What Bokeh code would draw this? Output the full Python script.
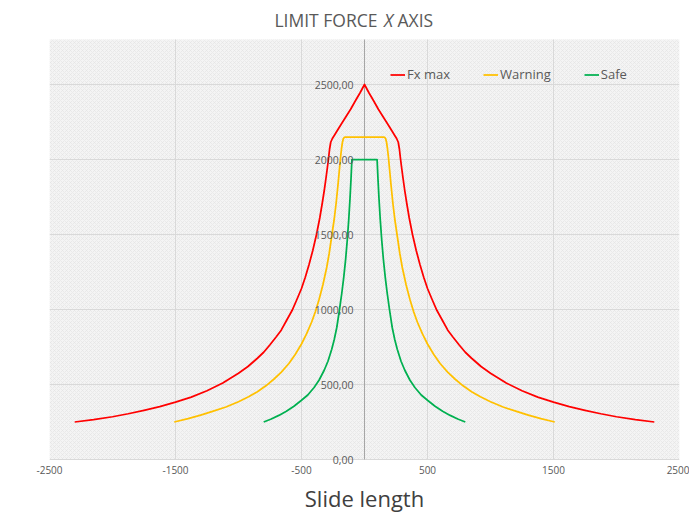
from bokeh.plotting import figure
from bokeh.models import (Range1d, FixedTicker, Label, LabelSet, Grid,
                          ColumnDataSource, BoxAnnotation)
from bokeh.core.properties import value
from bokeh.embed import file_html
from bokeh.resources import INLINE

FONT = "Open Sans"

# ---- data ----
x_ticks = [-2500, -1500, -500, 500, 1500, 2500]
x_tick_labels = ["-2500", "-1500", "-500", "500", "1500", "2500"]
y_ticks = [0, 500, 1000, 1500, 2000, 2500]
y_tick_labels = ["0,00", "500,00", "1000,00", "1500,00", "2000,00", "2500,00"]

fx_max_x = [-2300, -2150, -2000, -1875, -1750, -1625, -1500, -1375, -1250, -1125, -1000,
            -925, -850, -800, -750, -700, -661, -620, -575, -540, -500, -470, -440, -410,
            -381, -355, -335, -320, -305, -294, -285, -277, -268, -255, -240, -217, -185,
            -150, -110, -71, -35, 0,
            35, 71, 110, 150, 185, 217, 240, 255, 268, 277, 285, 294, 305, 320, 335, 355,
            381, 410, 440, 470, 500, 540, 575, 620, 661, 700, 750, 800, 850, 925,
            1000, 1125, 1250, 1375, 1500, 1625, 1750, 1875, 2000, 2150, 2300]
fx_max_y = [250, 266, 285, 305, 328, 352, 382, 416, 458, 510, 575,
            620, 675, 715, 765, 818, 862, 925, 993, 1060, 1140, 1215, 1300, 1395,
            1500, 1610, 1710, 1790, 1880, 1950, 2010, 2070, 2115, 2140, 2160, 2192, 2235,
            2282, 2335, 2393, 2445, 2500,
            2445, 2393, 2335, 2282, 2235, 2192, 2160, 2140, 2115, 2070, 2010, 1950, 1880,
            1790, 1710, 1610,
            1500, 1395, 1300, 1215, 1140, 1060, 993, 925, 862, 818, 765, 715, 675, 620,
            575, 510, 458, 416, 382, 352, 328, 305, 285, 266, 250]

warning_x = [-1510, -1400, -1300, -1200, -1100, -1000, -920, -850, -780, -720, -660,
             -600, -550, -500, -460, -420, -390, -360, -330, -300, -280, -260, -240,
             -225, -210, -200, -190, -182, -175, -168, -160, -150,
             150, 160, 168, 175, 182, 190, 200, 210, 225, 240, 260, 280, 300, 330,
             360, 390, 420, 460, 500, 550, 600, 660, 720, 780, 850, 920, 1000, 1100,
             1200, 1300, 1400, 1510]
warning_y = [250, 272, 296, 322, 350, 385, 418, 452, 493, 535, 583,
             640, 700, 770, 837, 915, 985, 1068, 1165, 1280, 1375, 1490, 1605,
             1710, 1835, 1925, 2015, 2075, 2115, 2138, 2148, 2150,
             2150, 2148, 2138, 2115, 2075, 2015, 1925, 1835, 1710, 1605, 1490, 1375,
             1280, 1165, 1068, 985, 915, 837, 770, 700, 640, 583, 535, 493, 452, 418,
             385, 350, 322, 296, 272, 250]

safe_x = [-800, -740, -680, -620, -560, -500, -450, -400, -360, -320, -290, -260,
          -240, -220, -200, -180, -165, -150, -137, -125, -115, -107, -100,
          100, 107, 115, 125, 137, 150, 165, 180, 200, 220, 240, 260, 290, 320,
          360, 400, 450, 500, 560, 620, 680, 740, 800]
safe_y = [250, 270, 294, 322, 355, 395, 430, 480, 530, 595, 655, 735,
          800, 880, 990, 1110, 1212, 1333, 1460, 1600, 1740, 1870, 2000,
          2000, 1870, 1740, 1600, 1460, 1333, 1212, 1110, 990, 880, 800, 735, 655,
          595, 530, 480, 430, 395, 355, 322, 294, 270, 250]

series_names = ["Fx max", "Warning", "Safe"]
series_colors = ["#ff0000", "#ffc000", "#00b050"]

# ---- figure ----
p = figure(width=689, height=516, x_range=Range1d(-2500, 2500), y_range=Range1d(-60, 3060),
           output_backend="svg", toolbar_location=None,
           min_border_left=49, min_border_right=10, min_border_top=0, min_border_bottom=48)
p.title.visible = False
p.outline_line_color = None
p.background_fill_color = "white"
p.border_fill_color = "white"

# textured plot area
p.add_layout(BoxAnnotation(left=-2500, right=2500, bottom=0, top=2800,
                           fill_color="#f4f4f4", fill_alpha=1.0, line_color=None,
                           hatch_pattern="x", hatch_color="#e3e3e3", hatch_scale=4,
                           hatch_weight=0.6, level="image"))

# grids, limited to the plot area
p.xgrid.ticker = FixedTicker(ticks=x_ticks)
p.ygrid.ticker = FixedTicker(ticks=y_ticks)
p.xgrid.cross_bounds = (0, 2800)
p.ygrid.cross_bounds = (-2500, 2500)
p.xgrid.grid_line_color = "#d9d9d9"
p.ygrid.grid_line_color = "#d9d9d9"

# vertical value axis line at x = 0
p.add_layout(Grid(dimension=0, ticker=FixedTicker(ticks=[0]), cross_bounds=(0, 2800),
                  grid_line_color="#a6a6a6", grid_line_width=1))

# x axis
p.xaxis.ticker = FixedTicker(ticks=x_ticks)
p.xaxis.major_label_overrides = dict(zip(x_ticks, x_tick_labels))
p.xaxis.axis_line_color = None
p.xaxis.major_tick_line_color = None
p.xaxis.minor_tick_line_color = None
p.xaxis.major_tick_out = 0
p.xaxis.major_tick_in = 0
p.xaxis.major_label_standoff = -3
p.xaxis.major_label_text_font = FONT
p.xaxis.major_label_text_font_size = "10px"
p.xaxis.major_label_text_color = "#595959"
p.xaxis.axis_label = "Slide length"
p.xaxis.axis_label_text_font = FONT
p.xaxis.axis_label_text_font_size = "22px"
p.xaxis.axis_label_text_font_style = "normal"
p.xaxis.axis_label_text_color = "#404040"
p.xaxis.axis_label_standoff = 6

# y axis labels drawn at x = 0
p.yaxis.visible = False
ysrc = ColumnDataSource(dict(x=[0] * len(y_ticks), y=y_ticks, text=y_tick_labels))
p.add_layout(LabelSet(x="x", y="y", text="text", source=ysrc, x_offset=-11,
                      text_align="right", text_baseline="middle",
                      text_font=value(FONT), text_font_size="10.5px",
                      text_color="#595959"))

# curves
for xs, ys, name, col in zip([fx_max_x, warning_x, safe_x], [fx_max_y, warning_y, safe_y],
                             series_names, series_colors):
    p.line(xs, ys, line_color=col, line_width=1.75, legend_label=name,
           line_join="round")

# legend
lg = p.legend[0]
lg.orientation = "horizontal"
lg.location = (341, 385)
lg.background_fill_alpha = 0
lg.border_line_color = None
lg.padding = 0
lg.margin = 0
lg.spacing = 33
lg.glyph_width = 15
lg.glyph_height = 15
lg.label_height = 15
lg.label_standoff = 2
lg.label_text_font = FONT
lg.label_text_font_size = "13px"
lg.label_text_color = "#595959"

# title with italic X
title_common = dict(x=0, y=2927, text_baseline="middle", text_font=FONT,
                    text_font_size="17.5px", text_color="#595959")
p.add_layout(Label(text="LIMIT FORCE", x_offset=13, text_align="right", **title_common))
p.add_layout(Label(text="X", x_offset=24, text_align="center", text_font_style="italic",
                   **title_common))
p.add_layout(Label(text="AXIS", x_offset=33, text_align="left", **title_common))

open("out.html", "w").write(file_html(p, INLINE))
